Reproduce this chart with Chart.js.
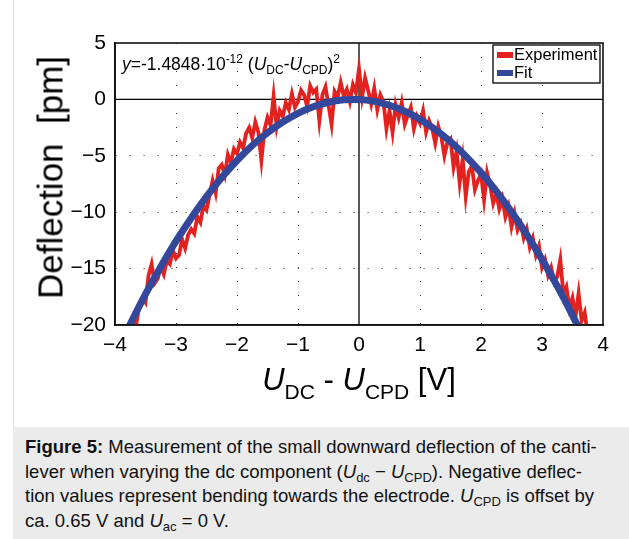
<!DOCTYPE html>
<html>
<head>
<meta charset="utf-8">
<script src="https://cdn.jsdelivr.net/npm/chart.js@4/dist/chart.umd.min.js"></script>
<style>
  body { margin: 0; width: 629px; height: 539px; background: #fff; position: relative; overflow: hidden;
         font-family: "Liberation Sans", Arial, Helvetica, sans-serif; }
  #edge { position: absolute; left: 13px; top: 0; width: 1px; height: 539px; background: #dedede; }
  #wrap { position: absolute; left: 0; top: 0; width: 629px; height: 420px; }
  .ov { position: absolute; white-space: nowrap; color: #000; line-height: 1; }
  #eq { left: 122px; top: 53px; font-size: 17.5px; }
  #eq sup, #eq sub { font-size: 12px; }
  #ytitle { left: -100px; top: 160px; width: 300px; text-align: center; font-size: 35px; transform: rotate(-90deg); }
  #xtitle { left: 209px; top: 364px; width: 300px; text-align: center; font-size: 31px; }
  #xtitle sub { font-size: 21px; vertical-align: -9px; }
  #caption { position: absolute; left: 13px; top: 427px; width: 616px; height: 112px; background: #ebebeb; }
  #caption p { margin: 0; position: absolute; left: 12px; top: 8px; font-size: 18.5px; line-height: 24.5px; color: #111; white-space: nowrap; }
  #caption sub { font-size: 13px; vertical-align: -4px; line-height: 0; }
</style>
</head>
<body>
<div id="edge"></div>
<div id="wrap"><canvas id="deflectionChart" width="629" height="420"></canvas></div>
<div class="ov" id="eq"><i>y</i>=-1.4848·10<sup>-12</sup> (<i>U</i><sub>DC</sub>-<i>U</i><sub>CPD</sub>)<sup>2</sup></div>
<div class="ov" id="ytitle">Deflection&nbsp; [pm]</div>
<div class="ov" id="xtitle"><i>U</i><sub>DC</sub> - <i>U</i><sub>CPD</sub> [V]</div>
<div id="caption"><p><b>Figure 5:</b> Measurement of the small downward deflection of the canti-<br>lever when varying the dc component (<i>U</i><sub>dc</sub> − <i>U</i><sub>CPD</sub>). Negative deflec-<br>tion values represent bending towards the electrode. <i>U</i><sub>CPD</sub> is offset by<br>ca. 0.65 V and <i>U</i><sub>ac</sub> = 0 V.</p></div>

<script>
const expX = [-3.75,-3.70,-3.65,-3.60,-3.55,-3.50,-3.45,-3.40,-3.35,-3.30,
  -3.25,-3.20,-3.15,-3.10,-3.05,-3.00,-2.95,-2.90,-2.85,-2.80,
  -2.75,-2.70,-2.65,-2.60,-2.55,-2.50,-2.45,-2.40,-2.35,-2.30,
  -2.25,-2.20,-2.15,-2.10,-2.05,-2.00,-1.95,-1.90,-1.85,-1.80,
  -1.75,-1.70,-1.65,-1.60,-1.55,-1.50,-1.45,-1.40,-1.35,-1.30,
  -1.25,-1.20,-1.15,-1.10,-1.05,-1.00,-0.95,-0.90,-0.85,-0.80,
  -0.75,-0.70,-0.65,-0.60,-0.55,-0.50,-0.45,-0.40,-0.35,-0.30,
  -0.25,-0.20,-0.15,-0.10,-0.05,0.00,0.05,0.10,0.15,0.20,
  0.25,0.30,0.35,0.40,0.45,0.50,0.55,0.60,0.65,0.70,
  0.75,0.80,0.85,0.90,0.95,1.00,1.05,1.10,1.15,1.20,
  1.25,1.30,1.35,1.40,1.45,1.50,1.55,1.60,1.65,1.70,
  1.75,1.80,1.85,1.90,1.95,2.00,2.05,2.10,2.15,2.20,
  2.25,2.30,2.35,2.40,2.45,2.50,2.55,2.60,2.65,2.70,
  2.75,2.80,2.85,2.90,2.95,3.00,3.05,3.10,3.15,3.20,
  3.25,3.30,3.35,3.40,3.45,3.50,3.55,3.60,3.65,3.70,3.74];
const expY = [-20.6,-19.3,-19.9,-18.2,-17.6,-18.0,-15.6,-14.6,-16.3,-15.9,
  -14.8,-15.5,-14.3,-14.6,-13.4,-14.1,-13.8,-12.4,-13.2,-12.0,
  -11.5,-11.9,-10.4,-10.9,-9.4,-9.8,-8.5,-7.2,-8.3,-6.1,
  -5.8,-6.7,-4.9,-5.6,-4.4,-4.8,-3.8,-4.3,-3.0,-2.5,
  -3.4,-2.0,-2.9,-5.4,-2.7,-1.6,-2.3,0.3,-2.4,-1.0,
  -1.5,-0.3,-0.9,0.5,-0.7,-0.2,0.8,0.4,-0.6,1.2,
  0.6,0.9,-1.9,0.4,1.1,-0.5,-2.2,0.7,0.2,1.5,
  0.3,0.9,-0.2,1.3,0.6,2.7,0.2,1.9,0.8,-0.4,
  1.0,-0.9,0.4,-0.2,-2.6,-1.0,-2.9,-0.5,-1.6,-0.3,
  -2.2,-1.4,-0.7,-2.6,-1.5,-2.1,-1.0,-2.9,-1.9,-2.6,
  -3.9,-2.4,-3.3,-5.0,-3.8,-3.5,-6.0,-4.6,-7.4,-5.3,
  -8.6,-6.4,-5.9,-8.0,-7.2,-6.6,-8.9,-6.5,-7.6,-9.2,
  -8.3,-9.7,-8.8,-10.4,-9.5,-11.3,-10.1,-11.6,-11.0,-12.3,
  -11.5,-13.1,-12.3,-13.8,-13.0,-14.9,-14.2,-15.6,-14.9,-16.2,
  -15.7,-14.2,-17.2,-16.6,-18.5,-17.6,-19.2,-17.2,-19.6,-18.9,-20.5];

// fitted parabola, points
const fitX = [-3.80,-3.50,-3.25,-3.00,-2.75,-2.50,-2.25,-2.00,-1.75,-1.50,-1.25,-1.00,-0.75,-0.50,-0.25,
  0.00,0.25,0.50,0.75,1.00,1.25,1.50,1.75,2.00,2.25,2.50,2.75,3.00,3.25,3.50,3.70];
const fitY = [-20.44,-17.27,-14.83,-12.57,-10.51,-8.62,-6.93,-5.42,-4.09,-2.95,-2.00,-1.23,-0.65,-0.25,-0.04,
  -0.01,-0.17,-0.52,-1.05,-1.76,-2.67,-3.75,-5.03,-6.49,-8.13,-9.96,-11.98,-14.18,-16.56,-19.14,-21.33];

const xTicks = [-4,-3,-2,-1,0,1,2,3,4];
const yTicks = [5,0,-5,-10,-15,-20];

const seriesNames = ["Experiment", "Fit"];
const red = "#e3211f";
const blue = "#34489b";
const tickFont = { family: "'Liberation Sans', Arial, Helvetica, sans-serif", size: 21 };

function minus(v){
  return String(v).replace("-", "\u2212");
}

// solid zero lines + frame
const axesPlugin = {
  id: "axesLines",
  beforeDatasetsDraw(chart){
    const {ctx, chartArea: a, scales} = chart;
    const x0 = scales.x.getPixelForValue(0);
    const y0 = scales.y.getPixelForValue(0);
    ctx.save();
    ctx.strokeStyle = "#000";
    ctx.lineWidth = 1.3;
    ctx.beginPath();
    ctx.moveTo(x0, a.top); ctx.lineTo(x0, a.bottom);
    ctx.moveTo(a.left, y0); ctx.lineTo(a.right, y0);
    ctx.stroke();
    ctx.restore();
  },
  afterDraw(chart){
    const {ctx, chartArea: a} = chart;
    ctx.save();
    ctx.strokeStyle = "#111";
    ctx.lineWidth = 1.6;
    ctx.strokeRect(a.left, a.top, a.right - a.left, a.bottom - a.top);
    ctx.restore();
  }
};

// boxed legend in the top right corner
const boxLegend = {
  id: "boxLegend",
  afterDraw(chart){
    const {ctx, chartArea: a} = chart;
    const bx = a.right - 110, by = a.top + 2, bw = 107, bh = 38;
    ctx.save();
    ctx.fillStyle = "#fff";
    ctx.fillRect(bx, by, bw, bh);
    ctx.strokeStyle = "#000";
    ctx.lineWidth = 1.3;
    ctx.strokeRect(bx, by, bw, bh);
    ctx.font = "16.5px 'Liberation Sans', Arial, sans-serif";
    ctx.textBaseline = "middle";
    chart.data.datasets.forEach((ds, i) => {
      const yy = by + 10 + i * 18;
      ctx.fillStyle = ds.borderColor;
      ctx.fillRect(bx + 4, yy - 3, 16, 6);
      ctx.fillStyle = "#000";
      ctx.fillText(ds.label, bx + 21, yy);
    });
    ctx.restore();
  }
};

const deflectionChart = new Chart(document.getElementById("deflectionChart"), {
  type: "line",
  data: {
    datasets: [
      {
        label: seriesNames[0],
        data: expX.map((x, i) => ({x: x, y: expY[i]})),
        borderColor: red,
        borderWidth: 3.8,
        pointRadius: 0,
        tension: 0,
        clip: 0,
        order: 1
      },
      {
        label: seriesNames[1],
        data: fitX.map((x, i) => ({x: x, y: fitY[i]})),
        borderColor: blue,
        borderWidth: 7,
        pointRadius: 0,
        tension: 0.3,
        clip: 0,
        order: 0
      }
    ]
  },
  options: {
    responsive: false,
    animation: false,
    devicePixelRatio: 1,
    layout: { padding: { left: 0, top: 43, right: 26, bottom: 0 } },
    plugins: { legend: { display: false }, tooltip: { enabled: false } },
    scales: {
      x: {
        type: "linear",
        min: -4, max: 4,
        afterBuildTicks: s => { s.ticks = xTicks.map(v => ({value: v})); },
        afterFit: s => { s.height = 95; },
        ticks: { color: "#000", font: tickFont, padding: 8, maxRotation: 0, callback: v => minus(v) },
        grid: {
          drawTicks: false,
          lineWidth: 1,
          color: c => (c.tick && (c.tick.value === 0 || c.tick.value === -4 || c.tick.value === 4)) ? "rgba(0,0,0,0)" : "#333"
        },
        border: { display: true, color: "#000", width: 1.6, dash: [1, 13] }
      },
      y: {
        type: "linear",
        min: -20, max: 5,
        afterBuildTicks: s => { s.ticks = yTicks.map(v => ({value: v})); },
        afterFit: s => { s.width = 115; },
        ticks: { color: "#000", font: tickFont, padding: 9, callback: v => minus(v) },
        grid: {
          drawTicks: false,
          lineWidth: 1,
          color: c => (c.tick && (c.tick.value === 0 || c.tick.value === 5 || c.tick.value === -20)) ? "rgba(0,0,0,0)" : "#333"
        },
        border: { display: true, color: "#000", width: 1.6, dash: [1, 13] }
      }
    }
  },
  plugins: [axesPlugin, boxLegend]
});
</script>
</body>
</html>
